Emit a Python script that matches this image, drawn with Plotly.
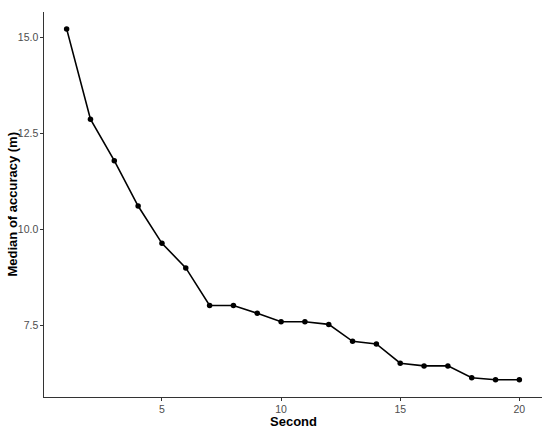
import plotly.graph_objects as go

seconds = list(range(1, 21))
median_accuracy = [15.22, 12.87, 11.79, 10.61, 9.64, 9.0, 8.02, 8.02, 7.82, 7.60,
                   7.60, 7.53, 7.09, 7.02, 6.52, 6.45, 6.45, 6.14, 6.09, 6.09]
x_ticks = [5, 10, 15, 20]
y_ticks = [7.5, 10.0, 12.5, 15.0]
y_tick_labels = ["7.5", "10.0", "12.5", "15.0"]

L, R, T, B = 44, 8, 12, 32
W, H = 550, 429
pw, ph = W - L - R, H - T - B

fig = go.Figure(go.Scatter(
    x=seconds, y=median_accuracy, mode="lines+markers",
    line=dict(color="black", width=1.6),
    marker=dict(color="black", size=5.5),
))

axis_common = dict(
    showgrid=False, zeroline=False, showline=True, linecolor="#333333", linewidth=1.3,
    ticks="outside", ticklen=2.5, tickwidth=1, tickcolor="#333333", automargin=False,
    tickfont=dict(family="Liberation Sans, Arial", size=10.5, color="#4D4D4D"),
)

title_font = dict(family="Liberation Sans, Arial", size=13, color="black")

fig.update_layout(
    width=W, height=H,
    margin=dict(l=L, r=R, t=T, b=B),
    paper_bgcolor="white", plot_bgcolor="white",
    showlegend=False,
    xaxis=dict(range=[0.05, 20.95], tickvals=x_ticks, **axis_common),
    yaxis=dict(range=[5.64, 15.66], tickvals=y_ticks, ticktext=y_tick_labels, **axis_common),
    annotations=[
        dict(text="<b>Second</b>", xref="paper", yref="paper",
             x=0.5, y=-(422 - (T + ph)) / ph, xanchor="center", yanchor="middle",
             showarrow=False, font=title_font),
        dict(text="<b>Median of accuracy (m)</b>", xref="paper", yref="paper",
             x=(12 - L) / pw, y=0.5, xanchor="center", yanchor="middle", textangle=-90,
             showarrow=False, font=title_font),
    ],
)

fig.write_html("out.html", config={"displayModeBar": False},
               post_script="document.body.style.margin='0';")
